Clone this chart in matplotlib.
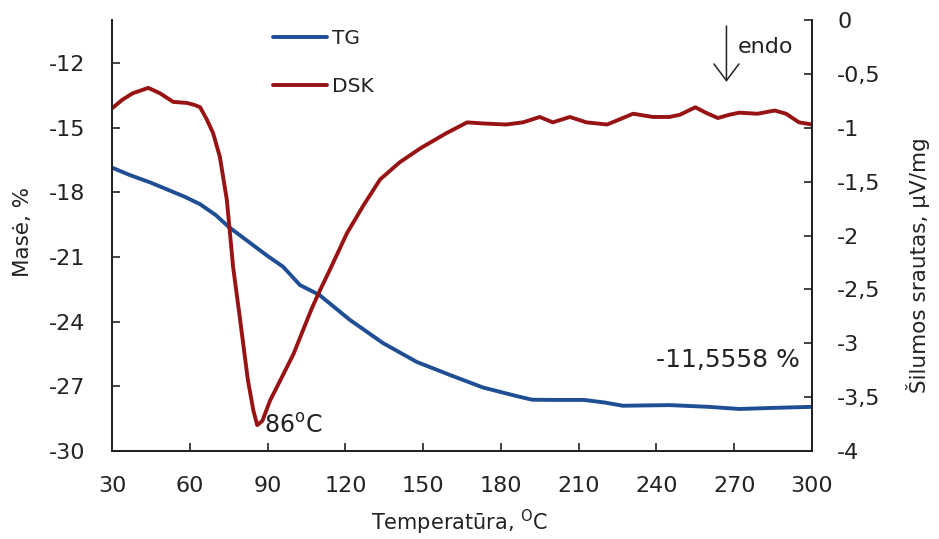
import numpy as np
import matplotlib.pyplot as plt

plt.rcParams['axes.unicode_minus'] = False

# TG (mass, %) - left axis
tg_temp = [30, 37, 45, 54, 58, 64, 70, 75, 80, 85, 90, 96, 102.5, 110, 116,
           121.8, 134.5, 147.6, 160.3, 173, 186, 192, 200, 212, 220, 227,
           245, 260, 272, 285, 300]
tg_mass = [-16.85, -17.2, -17.55, -18.0, -18.2, -18.55, -19.05, -19.6, -20.05,
           -20.5, -20.95, -21.45, -22.3, -22.76, -23.35, -23.92, -24.99,
           -25.87, -26.47, -27.05, -27.45, -27.62, -27.63, -27.63, -27.75,
           -27.9, -27.87, -27.95, -28.05, -28.0, -27.95]

# DSK (heat flow, uV/mg) - right axis
dsk_temp = [30, 34, 38, 44, 48.5, 53.6, 59, 62, 64, 66.5, 69, 71.6, 74.3, 76.7,
            79.4, 82.4, 84.5, 86, 88, 91, 95, 100, 102.5, 107, 110, 114, 120.6,
            127, 133.4, 141, 149, 159, 167, 173, 182, 188.5, 195, 200, 206.6,
            213, 221, 231, 238.6, 245, 249, 255, 259, 263.7, 268, 272, 279,
            285.6, 290, 295, 300]
dsk_flow = [-0.82, -0.74, -0.68, -0.63, -0.68, -0.76, -0.77, -0.79, -0.81,
            -0.92, -1.05, -1.27, -1.67, -2.29, -2.78, -3.34, -3.62, -3.76,
            -3.72, -3.53, -3.34, -3.1, -2.95, -2.68, -2.52, -2.32, -1.98,
            -1.72, -1.48, -1.32, -1.19, -1.05, -0.95, -0.96, -0.97, -0.95,
            -0.90, -0.95, -0.90, -0.95, -0.97, -0.87, -0.90, -0.90, -0.88,
            -0.81, -0.86, -0.91, -0.88, -0.86, -0.87, -0.84, -0.87, -0.95,
            -0.97]

x_ticks = [30, 60, 90, 120, 150, 180, 210, 240, 270, 300]
left_ticks = [-30, -27, -24, -21, -18, -15, -12]
right_ticks = [0, -0.5, -1, -1.5, -2, -2.5, -3, -3.5, -4]
right_labels = ['0', '-0,5', '-1', '-1,5', '-2', '-2,5', '-3', '-3,5', '-4']

blue = '#1f4e94'
red = '#981414'
ink = '#222222'

fig = plt.figure(figsize=(9.39, 5.39), dpi=100)
ax = fig.add_axes([112 / 939, 1 - 451 / 539, 700 / 939, 431 / 539])
ax2 = ax.twinx()

l1, = ax.plot(tg_temp, tg_mass, color=blue, lw=2.8, label='TG',
              solid_joinstyle='round', solid_capstyle='round')
l2, = ax2.plot(dsk_temp, dsk_flow, color=red, lw=2.8, label='DSK',
               solid_joinstyle='round', solid_capstyle='round')

ax.set_xlim(30, 300)
ax.set_ylim(-30, -10)
ax2.set_ylim(-4, 0)
ax.set_xticks(x_ticks)
ax.set_yticks(left_ticks)
ax2.set_yticks(right_ticks)
ax2.set_yticklabels(right_labels)

for a in (ax, ax2):
    a.spines['top'].set_visible(False)
    for s in a.spines.values():
        s.set_color(ink)
        s.set_linewidth(1.4)
    a.tick_params(direction='in', length=6, width=1.2, colors=ink,
                  labelsize=16, labelcolor=ink)
ax.tick_params(axis='x', pad=18)
ax.tick_params(axis='y', pad=19)
ax2.tick_params(axis='y', pad=18)

ax.set_xlabel('Temperatūra, $^{\\mathrm{O}}$C', fontsize=15, color=ink)
ax.xaxis.set_label_coords(0.497, -0.166)
ax.xaxis.label.set_va('center')
ax.set_ylabel('Masė, %', fontsize=15.5, color=ink)
ax.yaxis.set_label_coords(-0.127, 0.508)
ax.yaxis.label.set_va('center')
ax2.set_ylabel('Šilumos srautas, µV/mg', fontsize=15.5, color=ink, rotation=90)
ax2.yaxis.set_label_coords(1.151, 0.432)
ax2.yaxis.label.set_va('center')

ax2.text(88.5, -3.77, '86$^{\\mathrm{o}}$C', fontsize=17, color=ink, va='center')
ax.text(267.5, -25.8, '-11,5558 %', fontsize=18, color=ink, ha='center', va='center')

ax2.annotate('', xy=(267, -0.6), xytext=(267, -0.03),
             arrowprops=dict(arrowstyle='->,head_length=1.2,head_width=0.9',
                             color=ink, lw=1.1))
ax2.text(271.5, -0.25, 'endo', fontsize=16, color=ink, va='center')

ax2.legend(handles=[l1, l2], loc='upper left', frameon=False,
           bbox_to_anchor=(273 / 939, 1 - 29 / 539), bbox_transform=fig.transFigure,
           borderaxespad=0, borderpad=0, fontsize=14.5, handlelength=2.7,
           handletextpad=0.25, labelspacing=1.45, labelcolor=ink)

fig.savefig('out.png', dpi=100)
